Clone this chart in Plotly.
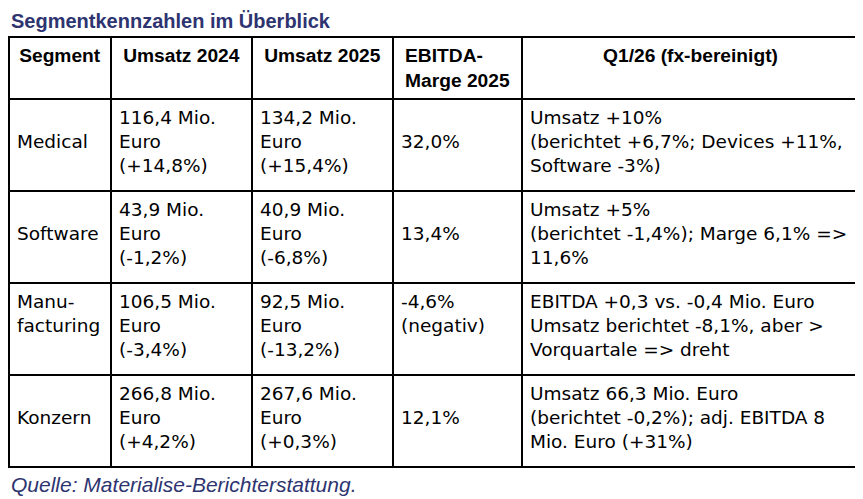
import plotly.graph_objects as go

# Tabelle: Segmentkennzahlen
header = ["Segment", "Umsatz 2024", "Umsatz 2025", "EBITDA-<br>Marge 2025", "Q1/26 (fx-bereinigt)"]
segments = ["Medical", "Software", "Manu-<br>facturing", "Konzern"]
umsatz_2024 = ["116,4 Mio.<br>Euro<br>(+14,8%)", "43,9 Mio.<br>Euro<br>(-1,2%)",
               "106,5 Mio.<br>Euro<br>(-3,4%)", "266,8 Mio.<br>Euro<br>(+4,2%)"]
umsatz_2025 = ["134,2 Mio.<br>Euro<br>(+15,4%)", "40,9 Mio.<br>Euro<br>(-6,8%)",
               "92,5 Mio.<br>Euro<br>(-13,2%)", "267,6 Mio.<br>Euro<br>(+0,3%)"]
ebitda_marge = ["32,0%", "13,4%", "-4,6%<br>(negativ)", "12,1%"]
q1_26 = ["Umsatz +10%<br>(berichtet +6,7%; Devices +11%,<br>Software -3%)",
         "Umsatz +5%<br>(berichtet -1,4%); Marge 6,1% =><br>11,6%",
         "EBITDA +0,3 vs. -0,4 Mio. Euro<br>Umsatz berichtet -8,1%, aber ><br>Vorquartale => dreht",
         "Umsatz 66,3 Mio. Euro<br>(berichtet -0,2%); adj. EBITDA 8<br>Mio. Euro (+31%)"]


def vcenter(txt):
    # one-line cells sit on the middle of three lines
    return txt if "<br>" in txt else "\u00a0<br>" + txt


navy = "#2E3470"
W, H = 855, 491  # page adds an 8px body margin

fig = go.Figure(go.Table(
    domain=dict(x=[1 / W, 851 / W], y=[0.0, 1 - 29 / H]),
    columnwidth=[102, 141, 141, 129, 337],
    header=dict(values=["<b>%s</b>" % h for h in header],
                align="center", height=61,
                line=dict(color="black", width=1.2),
                fill=dict(color="white"),
                font=dict(family="Liberation Sans", size=19.2, color="black")),
    cells=dict(values=[[vcenter(s) for s in segments], umsatz_2024, umsatz_2025,
                       [vcenter(e) for e in ebitda_marge], q1_26],
               align="left", height=92,
               line=dict(color="black", width=1.2),
               fill=dict(color="white"),
               font=dict(family="DejaVu Sans", size=18.5, color="black")),
))

fig.update_layout(
    width=W, height=H,
    margin=dict(l=0, r=0, t=0, b=0),
    paper_bgcolor="white",
    annotations=[
        dict(text="<b>Segmentkennzahlen im Überblick</b>", x=1 / W, y=1.0,
             xref="paper", yref="paper", xanchor="left", yanchor="top", showarrow=False,
             font=dict(family="Liberation Sans", size=20, color=navy)),
        dict(text="<i>Quelle: Materialise-Berichterstattung.</i>", x=1 / W, y=1 - 476 / H,
             xref="paper", yref="paper", xanchor="left", yanchor="middle", showarrow=False,
             font=dict(family="Liberation Sans", size=21, color=navy)),
    ],
)

fig.write_html("out.html")
